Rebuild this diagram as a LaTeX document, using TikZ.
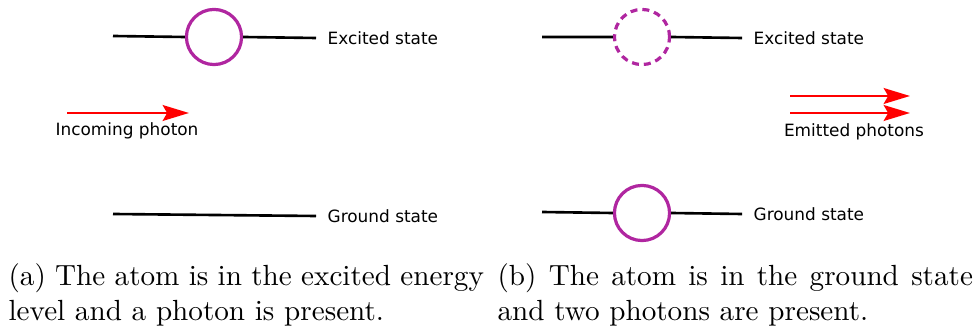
\documentclass[tikz,border=0pt]{standalone}
\usepackage{fontspec}
\newfontfamily\labelfont{DejaVu Sans}
\usepackage{xcolor}
\usetikzlibrary{arrows.meta,positioning}
\definecolor{atomcol}{RGB}{176,38,160}
\tikzset{
  level/.style={line width=0.9pt},
  atom/.style={draw=atomcol, circle, line width=1.1pt, minimum size=18.9pt, inner sep=0pt},
  gone/.style={atom, dash pattern=on 2.4pt off 1.7pt},
  photon/.style={draw=red, line width=1pt, -{Stealth[length=9pt,width=5.4pt,inset=1.5pt]}},
  statelbl/.style={font=\labelfont\fontsize{5.8}{7}\selectfont, inner sep=0pt},
  capt/.style={text width=163pt, align=justify, anchor=north west, inner sep=0pt},
}

\begin{document}
\begin{tikzpicture}[x=0.3429pt, y=-0.3429pt]
  \useasboundingbox (0,0) rectangle (975,330);
  % (a) excited atom, one incoming photon
  \coordinate (ea1) at (113,36);
  \coordinate (ea2) at (316,38);
  \node[atom] (atoma) at (214,37) {};
  \draw[level] (ea1) -- (atoma.west) (atoma.east) -- (ea2);
  \node[statelbl, right=3.8pt of ea2] (exa) {Excited state};
  \coordinate (pa1) at (67,113);
  \coordinate (pa2) at (189,113);
  \draw[photon] (pa1) -- (pa2);
  \node[statelbl] (inc) at (127,131) {Incoming photon};
  \coordinate (ga1) at (113,214);
  \coordinate (ga2) at (316,216);
  \draw[level] (ga1) -- (ga2);
  \node[statelbl, right=3.8pt of ga2] (gra) {Ground state};
  \node[capt] (capa) at (8,263) {(a) The atom is in the excited energy level and a photon is present.};
  % (b) atom back in ground state, two photons
  \coordinate (eb1) at (542,37);
  \coordinate (eb2) at (742,38);
  \node[gone] (oldb) at (642,37) {};
  \draw[level] (eb1) -- (oldb.west) (oldb.east) -- (eb2);
  \node[statelbl, right=3.8pt of eb2] (exb) {Excited state};
  \coordinate (pb1) at (790,96);
  \coordinate (pb2) at (910,96);
  \coordinate (pb3) at (790,113);
  \coordinate (pb4) at (910,113);
  \draw[photon] (pb1) -- (pb2);
  \draw[photon] (pb3) -- (pb4);
  \node[statelbl] (emi) at (854,132) {Emitted photons};
  \coordinate (gb1) at (542,212);
  \coordinate (gb2) at (742,214);
  \node[atom] (atomb) at (642,213) {};
  \draw[level] (gb1) -- (atomb.west) (atomb.east) -- (gb2);
  \node[statelbl, right=3.8pt of gb2] (grb) {Ground state};
  \node[capt] (capb) at (497,263) {(b) The atom is in the ground state and two photons are present.};
\end{tikzpicture}
\end{document}
